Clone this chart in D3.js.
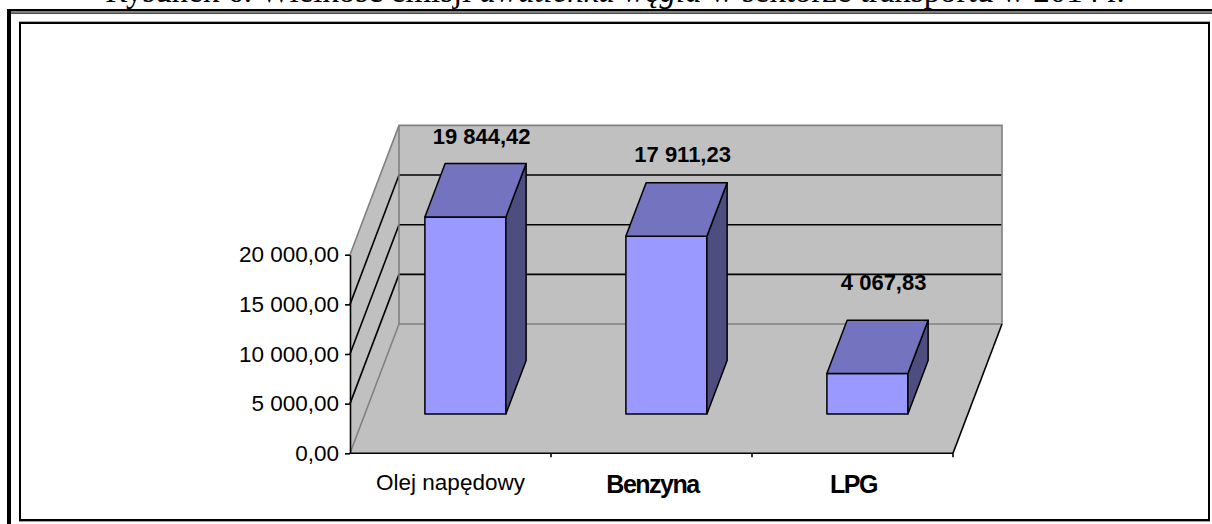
<!DOCTYPE html>
<html>
<head>
<meta charset="utf-8">
<script src="https://cdn.jsdelivr.net/npm/d3@7"></script>
<style>
  html, body { margin: 0; padding: 0; background: #fff; }
  svg { display: block; }
</style>
</head>
<body>
<svg id="chart" width="1212" height="524"></svg>
<script>
// ---- data ----
const categories = ["Olej napędowy", "Benzyna", "LPG"];
const values = [19844.42, 17911.23, 4067.83];
const categoryBold = [false, true, true];
const yTicks = [0, 5000, 10000, 15000, 20000];
const titleParts = [
  { text: "Rysunek 6. Wielkość emisji ", italic: false },
  { text: "dwutlenku węgla", italic: true },
  { text: " w sektorze transportu w 2014 r.", italic: false }
];

const svg = d3.select("#chart");
const pl = d3.formatLocale({ decimal: ",", thousands: "\u00a0", grouping: [3], currency: ["", ""] });
const fmt = pl.format(",.2f");

// ---- title (cut off at top, as in the source page) ----
const title = svg.append("text")
  .attr("x", 615).attr("y", 1.5)
  .attr("text-anchor", "middle")
  .style("font-family", "'Liberation Serif', 'Times New Roman', serif")
  .style("font-size", "28px");
titleParts.forEach(p => title.append("tspan").text(p.text).style("font-style", p.italic ? "italic" : "normal"));
const tl = title.node().getComputedTextLength();
title.style("font-size", (28 * 1020 / tl) + "px");

// ---- outer double border ----
svg.append("rect").attr("x", 7).attr("y", 9).attr("width", 1212).attr("height", 2.5).attr("fill", "#000");
svg.append("rect").attr("x", 7).attr("y", 9).attr("width", 4).attr("height", 524).attr("fill", "#000");
svg.append("rect").attr("x", 11).attr("y", 12.5).attr("width", 1212).attr("height", 1.2).attr("fill", "#000");

// ---- inner chart box ----
svg.append("line").attr("x1", 19).attr("x2", 1210).attr("y1", 21.5).attr("y2", 21.5).attr("stroke", "#b0b0b0").attr("stroke-width", 1);
svg.append("line").attr("x1", 19).attr("x2", 1210).attr("y1", 521.5).attr("y2", 521.5).attr("stroke", "#a0a0a0").attr("stroke-width", 1.2);
svg.append("rect").attr("x", 20).attr("y", 23).attr("width", 1189).attr("height", 497)
  .attr("fill", "none").attr("stroke", "#000").attr("stroke-width", 2);

// ---- scales ----
const x = d3.scaleBand().domain(categories).range([350, 953]).paddingInner(0).paddingOuter(0);
const y = d3.scaleLinear().domain([0, 20000]).range([453.3, 254.7]);
const DX = 49, DY = -129.3;             // full depth offset
const P = (px, v, d) => [px + d * DX, y(v) + d * DY];
const poly = pts => "M" + pts.map(p => p.join(",")).join("L") + "Z";
const line = pts => "M" + pts.map(p => p.join(",")).join("L");
const x0 = x.range()[0], x1 = x.range()[1];
const vMax = y.domain()[1];

const gray = "#c0c0c0", edge = "#808080";

// walls and floor
svg.append("path").attr("d", poly([P(x0, 0, 1), P(x1, 0, 1), P(x1, vMax, 1), P(x0, vMax, 1)])).attr("fill", gray);
svg.append("path").attr("d", poly([P(x0, 0, 0), P(x0, vMax, 0), P(x0, vMax, 1), P(x0, 0, 1)])).attr("fill", gray);
svg.append("path").attr("d", poly([P(x0, 0, 0), P(x1, 0, 0), P(x1, 0, 1), P(x0, 0, 1)])).attr("fill", gray);

// gridlines
yTicks.filter(v => v > 0 && v < vMax).forEach(v => {
  svg.append("path").attr("d", line([P(x0, v, 0), P(x0, v, 1), P(x1, v, 1)]))
    .attr("fill", "none").attr("stroke", "#000").attr("stroke-width", 1.6);
});

// gray edges
const edges = [
  [P(x0, vMax, 0), P(x0, vMax, 1), P(x1, vMax, 1), P(x1, 0, 1)],
  [P(x0, vMax, 1), P(x0, 0, 1)],
  [P(x0, 0, 0), P(x0, 0, 1), P(x1, 0, 1)]
];
edges.forEach(e => svg.append("path").attr("d", line(e)).attr("fill", "none").attr("stroke", edge).attr("stroke-width", 1.6));
svg.append("path").attr("d", line([P(x1, 0, 0), P(x1, 0, 1)])).attr("fill", "none").attr("stroke", "#000").attr("stroke-width", 1.6);

// ---- bars ----
const d0 = 0.304, d1 = 0.717, barFrac = 0.403;
const bw = x.bandwidth() * barFrac;
const bars = svg.append("g").attr("stroke", "#000").attr("stroke-width", 1.5).attr("stroke-linejoin", "round");
categories.forEach((c, i) => {
  const v = values[i];
  const L = x(c) + (x.bandwidth() - bw) / 2, R = L + bw;
  bars.append("path").attr("d", poly([P(L, 0, d0), P(R, 0, d0), P(R, v, d0), P(L, v, d0)])).attr("fill", "#9999ff");
  bars.append("path").attr("d", poly([P(R, 0, d0), P(R, 0, d1), P(R, v, d1), P(R, v, d0)])).attr("fill", "#4d4d80");
  bars.append("path").attr("d", poly([P(L, v, d0), P(L, v, d1), P(R, v, d1), P(R, v, d0)])).attr("fill", "#7373bf");
  const top = P((L + R) / 2, v, d1);
  const off = 33 - 14 * v / vMax;
  svg.append("text").attr("x", top[0] - 4).attr("y", top[1] - off)
    .attr("text-anchor", "middle")
    .style("font-family", "'Liberation Sans', Arial, sans-serif")
    .style("font-size", "22px").style("font-weight", "bold")
    .text(fmt(v));
});

// ---- axes ----
const yAxis = svg.append("g").attr("transform", `translate(${x0},0)`)
  .call(d3.axisLeft(y).tickValues(yTicks).tickFormat(fmt).tickSize(5).tickSizeOuter(0).tickPadding(6));
yAxis.select(".domain").attr("stroke", "#000").attr("stroke-width", 1.6);
yAxis.selectAll(".tick line").attr("stroke", "#000").attr("stroke-width", 1.6);
yAxis.selectAll(".tick text")
  .style("font-family", "'Liberation Sans', Arial, sans-serif").style("font-size", "22.5px").attr("fill", "#000");

svg.append("line").attr("x1", x0).attr("x2", x1).attr("y1", y(0)).attr("y2", y(0))
  .attr("stroke", "#000").attr("stroke-width", 1.6);
const bounds = categories.map(c => x(c) + x.bandwidth());
bounds.forEach(b => svg.append("line").attr("x1", b).attr("x2", b).attr("y1", y(0)).attr("y2", y(0) + 4)
  .attr("stroke", "#000").attr("stroke-width", 1.6));

categories.forEach((c, i) => {
  svg.append("text").attr("x", x(c) + x.bandwidth() / 2 + (categoryBold[i] ? 1 : 0)).attr("y", categoryBold[i] ? 493 : 490)
    .attr("text-anchor", "middle")
    .style("font-family", "'Liberation Sans', Arial, sans-serif")
    .style("font-size", categoryBold[i] ? "25px" : "22.5px")
    .style("font-weight", categoryBold[i] ? "bold" : "normal")
    .style("letter-spacing", categoryBold[i] ? "-1.5px" : "0px")
    .text(c);
});
</script>
</body>
</html>
